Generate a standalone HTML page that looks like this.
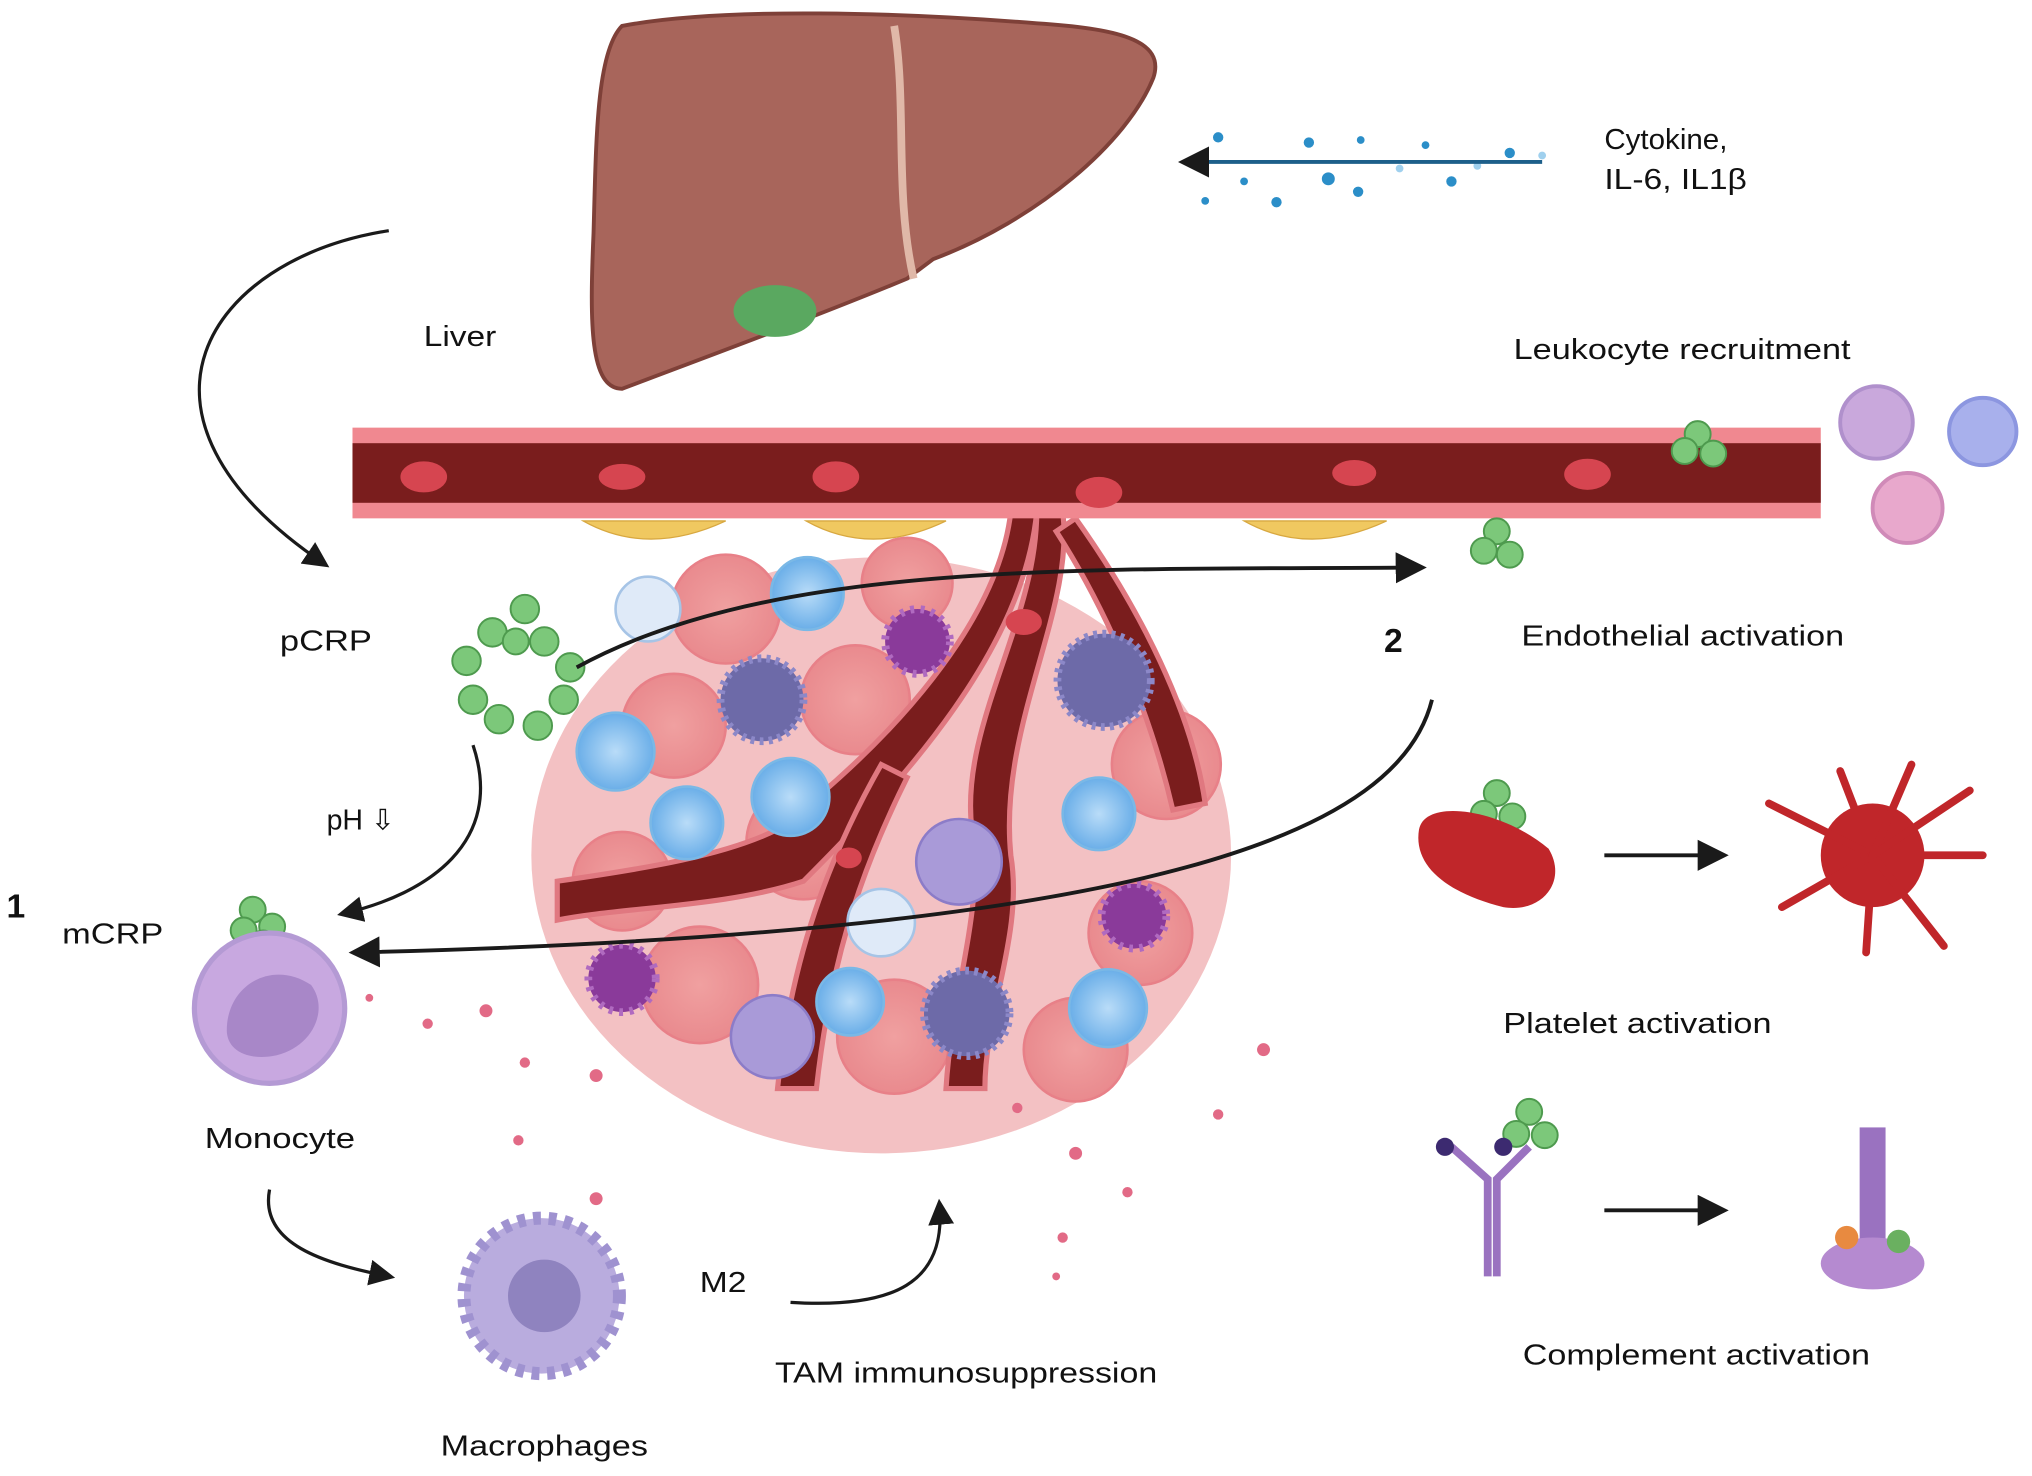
<!DOCTYPE html>
<html><head><meta charset="utf-8"><style>
html,body{margin:0;padding:0;background:#fff;}
svg{display:block}
text{font-family:"Liberation Sans",sans-serif;fill:#111;}
</style></head><body>
<svg width="2032" height="1476" viewBox="0 0 1568 1139" preserveAspectRatio="none" xmlns="http://www.w3.org/2000/svg">
<defs>
<marker id="ah" markerWidth="8" markerHeight="8" refX="6" refY="4" orient="auto" markerUnits="strokeWidth"><path d="M0,0 L8,4 L0,8 Z" fill="#1a1a1a"/></marker>
<radialGradient id="blue"><stop offset="0" stop-color="#b9dcf8"/><stop offset="1" stop-color="#6aaee8"/></radialGradient>
<radialGradient id="pink"><stop offset="0" stop-color="#f0a0a0"/><stop offset="1" stop-color="#e98a8e"/></radialGradient>
</defs>
<!-- liver -->
<path d="M480,20 C560,5 700,10 800,18 C860,22 900,30 890,60 C870,110 800,170 720,200 L700,215 C640,240 560,270 480,300 C455,300 455,250 458,180 C460,110 460,40 480,20 Z" fill="#a8655b" stroke="#7e4038" stroke-width="3"/>
<path d="M690,20 C700,80 690,150 705,215" stroke="#e0b8a8" stroke-width="6" fill="none"/>
<ellipse cx="598" cy="240" rx="32" ry="20" fill="#5aa860"/>
<text x="327" y="267" font-size="22" textLength="56" lengthAdjust="spacingAndGlyphs">Liver</text>
<!-- cytokine -->
<g fill="#2b8ec8">
<circle cx="940" cy="106" r="4"/><circle cx="1010" cy="110" r="4"/><circle cx="1050" cy="108" r="3"/><circle cx="1100" cy="112" r="3"/><circle cx="1165" cy="118" r="4"/><circle cx="1025" cy="138" r="5"/><circle cx="1048" cy="148" r="4"/><circle cx="985" cy="156" r="4"/><circle cx="1120" cy="140" r="4"/><circle cx="960" cy="140" r="3"/><circle cx="930" cy="155" r="3"/><circle cx="1080" cy="130" r="3" fill="#9fd0ee"/><circle cx="1140" cy="128" r="3" fill="#9fd0ee"/><circle cx="1190" cy="120" r="3" fill="#9fd0ee"/></g>
<line x1="1190" y1="125" x2="915" y2="125" stroke="#1d5f8a" stroke-width="3" marker-end="url(#ah)"/>
<text x="1238" y="115" font-size="22" textLength="95" lengthAdjust="spacingAndGlyphs">Cytokine,</text>
<text x="1238" y="146" font-size="22" textLength="110" lengthAdjust="spacingAndGlyphs">IL-6, IL1β</text>
<!-- tumor mass -->
<ellipse cx="680" cy="660" rx="270" ry="230" fill="#f3c1c3"/>
<g fill="url(#pink)" stroke="#e88088" stroke-width="2">
<circle cx="560" cy="470" r="42"/><circle cx="520" cy="560" r="40"/><circle cx="660" cy="540" r="42"/><circle cx="620" cy="650" r="44"/><circle cx="540" cy="760" r="45"/><circle cx="880" cy="720" r="40"/><circle cx="900" cy="590" r="42"/><circle cx="690" cy="800" r="44"/><circle cx="830" cy="810" r="40"/><circle cx="480" cy="680" r="38"/><circle cx="700" cy="450" r="35"/></g>
<!-- branching vessel -->
<path d="M800,395 C790,500 700,600 620,680 C560,700 480,700 430,710 L430,680 C500,670 560,660 600,640 C690,570 770,480 780,395 Z" fill="#7a1d1d" stroke="#e07880" stroke-width="4"/>
<path d="M820,395 C830,470 770,560 780,660 C790,720 760,780 760,840 L730,840 C735,760 760,700 750,640 C740,560 800,480 800,395 Z" fill="#7a1d1d" stroke="#e07880" stroke-width="4"/>
<path d="M700,600 C660,680 640,750 630,840 L600,840 C610,740 640,660 680,590 Z" fill="#7a1d1d" stroke="#e07880" stroke-width="4"/>
<path d="M830,400 C880,470 920,550 930,620 L905,625 C890,560 860,480 815,410 Z" fill="#7a1d1d" stroke="#e07880" stroke-width="4"/>
<!-- blue cells -->
<g fill="url(#blue)" stroke="#7ab8e6" stroke-width="2">
<circle cx="623" cy="458" r="28"/><circle cx="475" cy="580" r="30"/><circle cx="530" cy="635" r="28"/><circle cx="610" cy="615" r="30"/><circle cx="848" cy="628" r="28"/><circle cx="656" cy="773" r="26"/><circle cx="855" cy="778" r="30"/></g>
<g fill="#dfeaf8" stroke="#a6c4e6" stroke-width="2"><circle cx="500" cy="470" r="25"/><circle cx="680" cy="712" r="26"/></g>
<g fill="#a99ad8" stroke="#8c7cc8" stroke-width="2"><circle cx="740" cy="665" r="33"/><circle cx="596" cy="800" r="32"/></g>
<g fill="#6d6aa8" stroke="#8c88c8" stroke-width="6" stroke-dasharray="3 4"><circle cx="588" cy="540" r="32"/><circle cx="852" cy="525" r="36"/><circle cx="746" cy="782" r="33"/></g>
<g fill="#8a3a9a" stroke="#b06ac0" stroke-width="6" stroke-dasharray="3 5"><circle cx="708" cy="495" r="25"/><circle cx="875" cy="707" r="25"/><circle cx="480" cy="755" r="26"/></g>
<!-- top vessel -->
<rect x="272" y="330" width="1133" height="70" fill="#f08890"/>
<rect x="272" y="342" width="1133" height="46" fill="#7a1d1d"/>
<g fill="#d64550"><ellipse cx="327" cy="368" rx="18" ry="12"/><ellipse cx="480" cy="368" rx="18" ry="10"/><ellipse cx="645" cy="368" rx="18" ry="12"/><ellipse cx="848" cy="380" rx="18" ry="12"/><ellipse cx="1045" cy="365" rx="17" ry="10"/><ellipse cx="1225" cy="366" rx="18" ry="12"/><ellipse cx="790" cy="480" rx="14" ry="10"/><ellipse cx="655" cy="662" rx="10" ry="8"/></g>
<g fill="#f0c860" stroke="#d8a840"><path d="M450,402 Q500,430 560,402 Z"/><path d="M622,402 Q672,430 730,402 Z"/><path d="M960,402 Q1010,430 1070,402 Z"/></g>
<!-- CRP clusters -->
<g fill="#7cc87a" stroke="#4e9a4e" stroke-width="1.5">
<circle cx="380" cy="488" r="11"/><circle cx="405" cy="470" r="11"/><circle cx="420" cy="495" r="11"/><circle cx="360" cy="510" r="11"/><circle cx="365" cy="540" r="11"/><circle cx="385" cy="555" r="11"/><circle cx="415" cy="560" r="11"/><circle cx="435" cy="540" r="11"/><circle cx="440" cy="515" r="11"/><circle cx="398" cy="495" r="10"/>
<circle cx="195" cy="702" r="10"/><circle cx="210" cy="715" r="10"/><circle cx="188" cy="718" r="10"/><circle cx="203" cy="728" r="10"/>
<circle cx="1310" cy="335" r="10"/><circle cx="1300" cy="348" r="10"/><circle cx="1322" cy="350" r="10"/>
<circle cx="1155" cy="410" r="10"/><circle cx="1145" cy="425" r="10"/><circle cx="1165" cy="428" r="10"/>
<circle cx="1155" cy="612" r="10"/><circle cx="1145" cy="628" r="10"/><circle cx="1167" cy="630" r="10"/>
<circle cx="1180" cy="858" r="10"/><circle cx="1170" cy="875" r="10"/><circle cx="1192" cy="876" r="10"/></g>
<!-- leukocytes -->
<circle cx="1448" cy="326" r="28" fill="#c9a8dc" stroke="#b090cc" stroke-width="3"/>
<circle cx="1530" cy="333" r="26" fill="#a8b0ec" stroke="#8c96e0" stroke-width="3"/>
<circle cx="1472" cy="392" r="27" fill="#e8a8cc" stroke="#d08ab8" stroke-width="3"/>
<text x="1168" y="277" font-size="22" textLength="260" lengthAdjust="spacingAndGlyphs">Leukocyte recruitment</text>
<text x="1174" y="498" font-size="22" textLength="249" lengthAdjust="spacingAndGlyphs">Endothelial activation</text>
<text x="1068" y="503" font-size="26" font-weight="bold">2</text>
<text x="216" y="502" font-size="22" textLength="71" lengthAdjust="spacingAndGlyphs">pCRP</text>
<text x="252" y="640" font-size="22">pH ⇩</text>
<text x="5" y="708" font-size="26" font-weight="bold">1</text>
<text x="48" y="728" font-size="22" textLength="78" lengthAdjust="spacingAndGlyphs">mCRP</text>
<!-- monocyte -->
<circle cx="208" cy="778" r="58" fill="#c8a8e0" stroke="#b49ad4" stroke-width="4"/>
<path d="M175,795 C175,760 210,740 240,760 C255,780 240,810 210,815 C190,818 175,810 175,795 Z" fill="#a887c8"/>
<text x="158" y="886" font-size="22" textLength="116" lengthAdjust="spacingAndGlyphs">Monocyte</text>
<!-- macrophage -->
<circle cx="418" cy="1000" r="60" fill="#b9acde" stroke="#9f92d0" stroke-width="10" stroke-dasharray="6 6"/>
<circle cx="420" cy="1000" r="28" fill="#8f83bf"/>
<text x="340" y="1123" font-size="22" textLength="160" lengthAdjust="spacingAndGlyphs">Macrophages</text>
<text x="540" y="997" font-size="22" textLength="36" lengthAdjust="spacingAndGlyphs">M2</text>
<text x="598" y="1067" font-size="22" textLength="295" lengthAdjust="spacingAndGlyphs">TAM immunosuppression</text>
<!-- scattered dots -->
<g fill="#e26a86"><circle cx="330" cy="790" r="4"/><circle cx="375" cy="780" r="5"/><circle cx="405" cy="820" r="4"/><circle cx="460" cy="830" r="5"/><circle cx="400" cy="880" r="4"/><circle cx="460" cy="925" r="5"/><circle cx="785" cy="855" r="4"/><circle cx="830" cy="890" r="5"/><circle cx="975" cy="810" r="5"/><circle cx="940" cy="860" r="4"/><circle cx="870" cy="920" r="4"/><circle cx="820" cy="955" r="4"/><circle cx="815" cy="985" r="3"/><circle cx="285" cy="770" r="3"/></g>
<!-- arrows -->
<path d="M300,178 C160,200 80,320 250,435" stroke="#1a1a1a" stroke-width="2.5" fill="none" marker-end="url(#ah)"/>
<path d="M445,515 C600,430 850,440 1095,438" stroke="#1a1a1a" stroke-width="3" fill="none" marker-end="url(#ah)"/>
<path d="M365,575 C390,650 330,690 265,705" stroke="#1a1a1a" stroke-width="2.5" fill="none" marker-end="url(#ah)"/>
<path d="M1105,540 C1080,640 900,720 275,735" stroke="#1a1a1a" stroke-width="3" fill="none" marker-end="url(#ah)"/>
<path d="M208,918 C200,960 250,975 300,985" stroke="#1a1a1a" stroke-width="2.5" fill="none" marker-end="url(#ah)"/>
<path d="M610,1005 C690,1010 730,990 725,930" stroke="#1a1a1a" stroke-width="2.5" fill="none" marker-end="url(#ah)"/>
<line x1="1238" y1="660" x2="1328" y2="660" stroke="#1a1a1a" stroke-width="3" marker-end="url(#ah)"/>
<line x1="1238" y1="934" x2="1328" y2="934" stroke="#1a1a1a" stroke-width="3" marker-end="url(#ah)"/>
<!-- platelets -->
<path d="M1095,640 C1100,615 1160,625 1195,655 C1210,680 1190,705 1160,700 C1120,690 1090,670 1095,640 Z" fill="#c0262a"/>
<circle cx="1445" cy="660" r="40" fill="#c0262a"/>
<g stroke="#c0262a" stroke-width="6" fill="none" stroke-linecap="round"><path d="M1445,660 L1365,620"/><path d="M1445,660 L1375,700"/><path d="M1445,660 L1420,595"/><path d="M1445,660 L1475,590"/><path d="M1445,660 L1530,660"/><path d="M1445,660 L1500,730"/><path d="M1445,660 L1440,735"/><path d="M1445,660 L1520,610"/></g>
<text x="1160" y="797" font-size="22" textLength="207" lengthAdjust="spacingAndGlyphs">Platelet activation</text>
<!-- complement -->
<g stroke="#9a72c0" stroke-width="6" fill="none"><path d="M1148,985 L1148,910 L1120,885"/><path d="M1155,985 L1155,910 L1180,885"/></g>
<circle cx="1115" cy="885" r="7" fill="#3c2a70"/><circle cx="1160" cy="885" r="7" fill="#3c2a70"/>
<rect x="1435" y="870" width="20" height="100" fill="#9a72c0"/>
<ellipse cx="1445" cy="975" rx="40" ry="20" fill="#b58ad0"/>
<circle cx="1425" cy="955" r="9" fill="#e88a40"/><circle cx="1465" cy="958" r="9" fill="#6ab060"/>
<text x="1175" y="1053" font-size="22" textLength="268" lengthAdjust="spacingAndGlyphs">Complement activation</text>
</svg>
</body></html>
